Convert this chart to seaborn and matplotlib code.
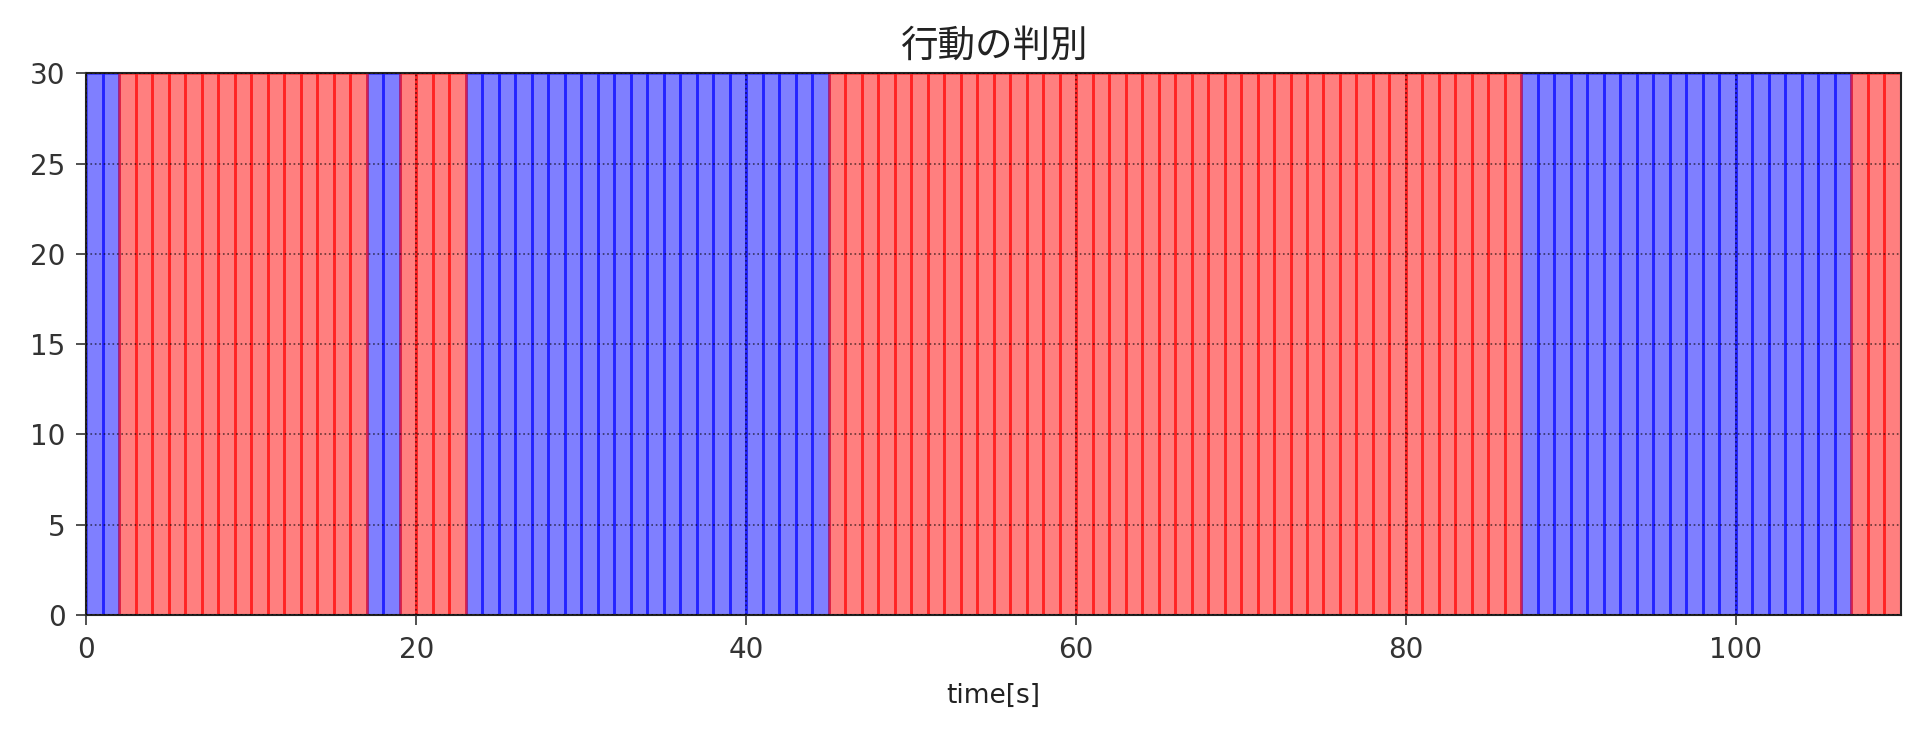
import numpy as np
import pandas as pd
import matplotlib
matplotlib.use("Agg")
import matplotlib.pyplot as plt
import seaborn as sns

# 判別結果 (1秒ごと): 0 = 青, 1 = 赤
seg_labels = [0, 1, 0, 1, 0, 1, 0, 1]
seg_lengths = [2, 15, 2, 4, 22, 42, 20, 3]
bar_height = 30

labels = []
for lab, n in zip(seg_labels, seg_lengths):
    labels += [lab] * n
time_s = np.arange(len(labels))

df = pd.DataFrame({
    "time": time_s + 0.5,
    "value": [bar_height] * len(labels),
    "label": labels,
})

sns.set_theme(style="ticks")
plt.rcParams['font.family'] = ['DejaVu Sans', 'Noto Sans CJK JP']

colors = {0: (0, 0, 1), 1: (1, 0, 0)}

fig, ax = plt.subplots(figsize=(19.2, 7.33), dpi=100)
sns.barplot(data=df, x="time", y="value", hue="label", palette=colors,
            native_scale=True, width=1, dodge=False, errorbar=None,
            saturation=1, alpha=0.5, legend=False, ax=ax)

# 枠線を塗りと同じ色に
for p in ax.patches:
    fc = p.get_facecolor()
    p.set_edgecolor((fc[0], fc[1], fc[2], 0.55))
    p.set_linewidth(2)

ax.set_xlim(0, 110)
ax.set_ylim(0, 30)
ax.set_xticks([0, 20, 40, 60, 80, 100])
ax.set_yticks([0, 5, 10, 15, 20, 25, 30])
ax.grid(True, linestyle=':', color='black', linewidth=1.2, alpha=0.6)
ax.set_axisbelow(False)
ax.tick_params(labelsize=20, length=7, width=1.2, pad=8, colors='#333333')
for s in ax.spines.values():
    s.set_color('#222222')
    s.set_linewidth(1.5)

ax.set_title('行動の判別', fontsize=27, color='#222222', pad=12)
ax.set_xlabel('time[s]', fontsize=19, color='#222222', labelpad=14)
ax.set_ylabel('')

plt.subplots_adjust(left=0.045, right=0.99, top=0.9, bottom=0.161)
plt.savefig('out.png', dpi=100)
